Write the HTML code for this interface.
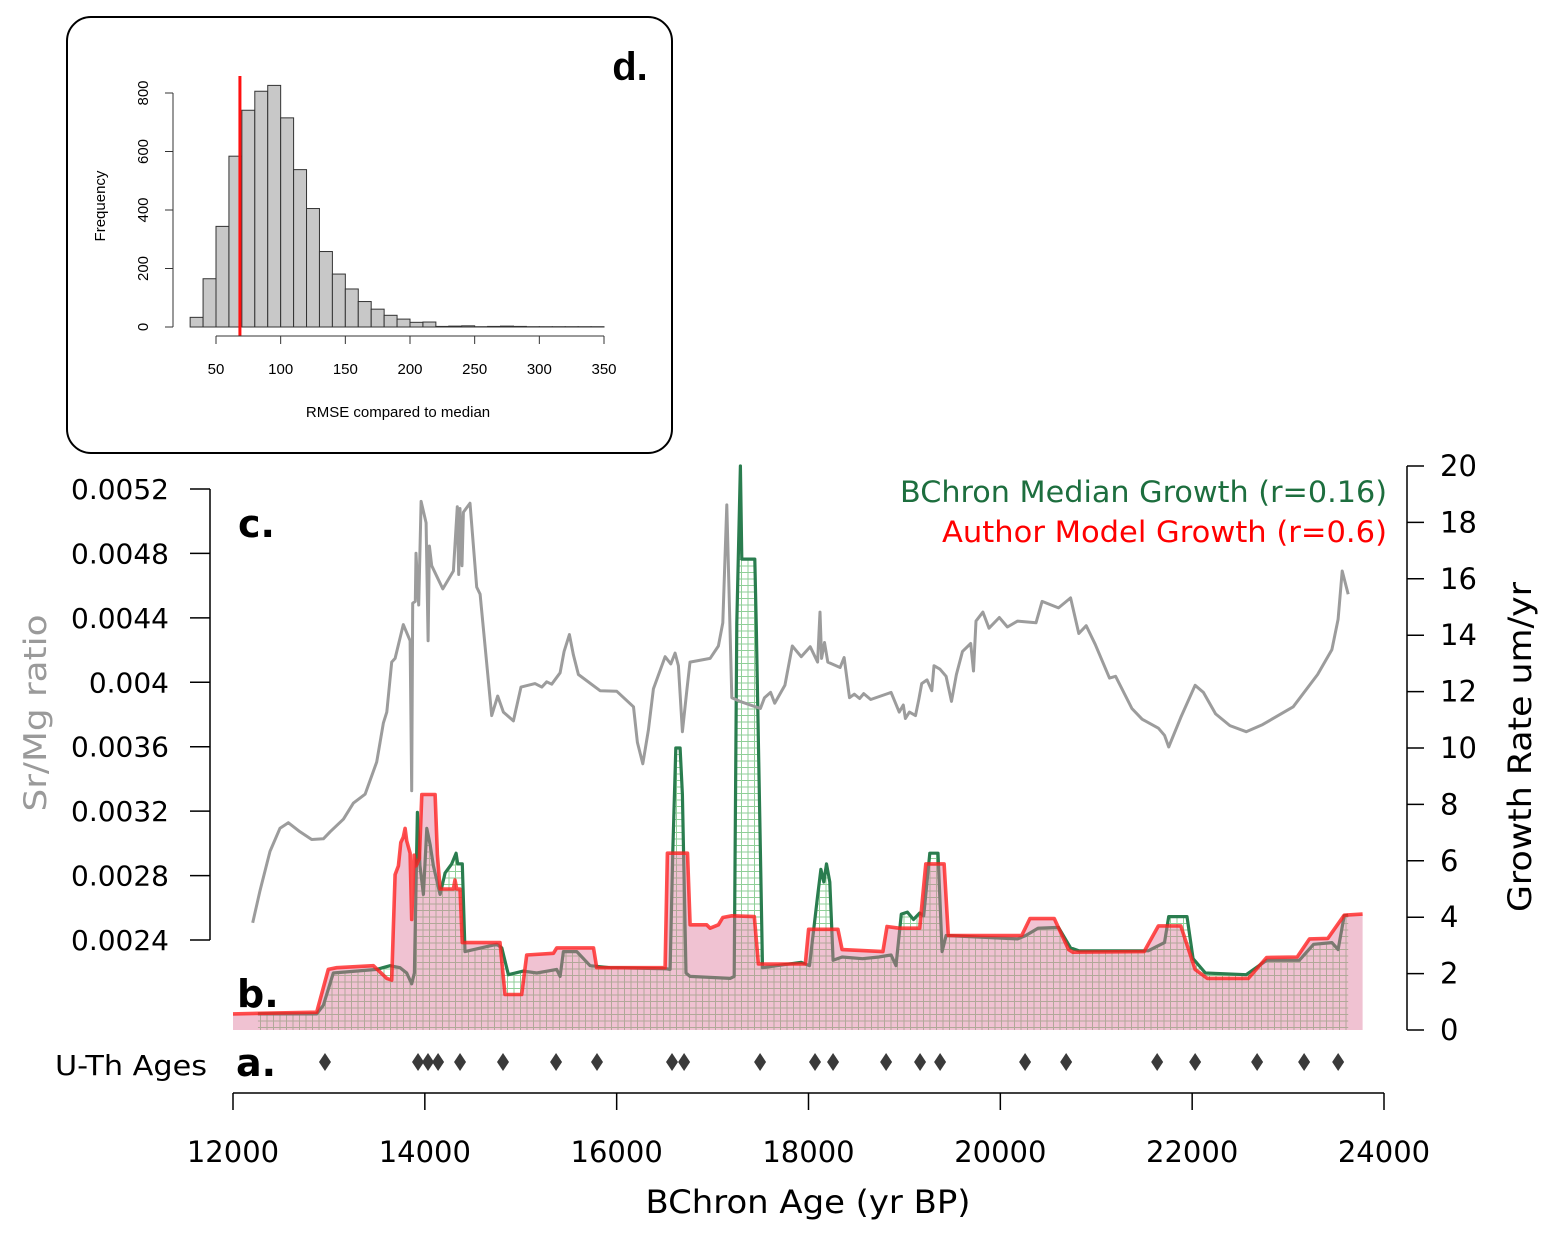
<!DOCTYPE html>
<html><head><meta charset="utf-8"><style>
html,body{margin:0;padding:0;background:#fff;}
svg{display:block;font-family:"Liberation Sans","DejaVu Sans",sans-serif;}
.dv{font-family:"DejaVu Sans","Liberation Sans",sans-serif;}
</style></head><body>
<svg id="fig" width="1554" height="1237" viewBox="0 0 1554 1237" xmlns="http://www.w3.org/2000/svg">
<defs>
<pattern id="ggrid" width="6.5" height="6.5" patternUnits="userSpaceOnUse">
<path d="M0 0.5H6.5M0.5 0V6.5" stroke="#8fcf98" stroke-width="1" fill="none"/>
</pattern>
</defs>
<g id="inset">
<rect x="67" y="17" width="605" height="436" rx="24" fill="#fff" stroke="#000" stroke-width="2"/>
<text x="630" y="80" font-size="40" font-weight="bold" text-anchor="middle">d.</text>
<g id="histBars"></g>
<g id="histAxes"></g>
<text x="398" y="417" font-size="15" text-anchor="middle">RMSE compared to median</text>
<text transform="translate(105,206) rotate(-90)" font-size="15" text-anchor="middle">Frequency</text>
</g>
<g id="main" class="dv">
<g id="gfill"></g>
<g id="gline"></g>
<g id="rfill"></g>
<g id="rline"></g>
<g id="grayline"></g>
<g id="axes"></g>
<g id="uth"></g>
<text x="238" y="537" font-size="38" font-weight="bold">c.</text>
<text x="237" y="1007" font-size="38" font-weight="bold">b.</text>
<text x="236" y="1076" font-size="38" font-weight="bold">a.</text>
<text x="55" y="1075" font-size="28" textLength="152" lengthAdjust="spacingAndGlyphs">U-Th Ages</text>
<text x="900" y="502" font-size="29" textLength="487" lengthAdjust="spacingAndGlyphs" fill="#1d6e3e">BChron Median Growth (r=0.16)</text>
<text x="942" y="542" font-size="29" textLength="445" lengthAdjust="spacingAndGlyphs" fill="#ff0000">Author Model Growth (r=0.6)</text>
<text transform="translate(46,713) rotate(-90)" font-size="31" fill="#9a9a9a" text-anchor="middle" textLength="197" lengthAdjust="spacingAndGlyphs">Sr/Mg ratio</text>
<text transform="translate(1531,747) rotate(-90)" font-size="32" text-anchor="middle" textLength="330" lengthAdjust="spacingAndGlyphs">Growth Rate um/yr</text>
<text x="808" y="1213" font-size="32" text-anchor="middle" textLength="325" lengthAdjust="spacingAndGlyphs">BChron Age (yr BP)</text>
</g>
</svg>
<script>
const NS='http://www.w3.org/2000/svg';
// ---- data ----
const grayYr=[12205,12282,12386,12490,12577,12699,12821,12942,13012,13151,13255,13377,13498,13568,13603,13655,13690,13776,13846,13863,13874,13901,13908,13936,13961,14013,14034,14048,14072,14187,14298,14339,14353,14367,14388,14402,14471,14541,14576,14697,14760,14819,14923,15003,15149,15219,15271,15323,15410,15452,15507,15549,15601,15827,16001,16175,16216,16272,16331,16383,16505,16564,16609,16644,16685,16731,16765,16974,17061,17106,17148,17200,17287,17499,17541,17605,17648,17754,17831,17924,18018,18095,18120,18137,18167,18201,18329,18371,18427,18478,18533,18576,18648,18754,18861,18946,18988,19010,19052,19116,19150,19180,19235,19286,19308,19371,19435,19491,19542,19606,19691,19720,19746,19818,19882,19989,20074,20180,20372,20435,20606,20733,20818,20895,20989,21138,21202,21372,21478,21648,21712,21755,21882,22031,22117,22244,22393,22563,22734,23053,23308,23457,23521,23564,23627];
const grayVal=[0.002507,0.002706,0.00295,0.003094,0.003128,0.003072,0.003024,0.003028,0.003072,0.00315,0.00325,0.003305,0.003505,0.003748,0.003815,0.004125,0.004148,0.004358,0.004258,0.003327,0.004491,0.004502,0.004801,0.00448,0.005123,0.00499,0.004258,0.004846,0.004724,0.00458,0.004691,0.00509,0.004669,0.005079,0.004724,0.005056,0.005112,0.004591,0.004547,0.003793,0.003915,0.003815,0.00376,0.00397,0.003992,0.00397,0.004003,0.003988,0.004059,0.004192,0.004296,0.00417,0.004048,0.003948,0.003944,0.003848,0.003627,0.003494,0.003704,0.003959,0.004159,0.004114,0.004181,0.004103,0.003693,0.003948,0.004125,0.004148,0.004225,0.004369,0.005101,0.003904,0.003881,0.003837,0.003904,0.003937,0.00387,0.003981,0.004225,0.004159,0.004221,0.004125,0.004436,0.004148,0.004247,0.004125,0.004092,0.004154,0.003904,0.003926,0.003899,0.00393,0.003893,0.003915,0.003937,0.003815,0.003859,0.003775,0.003815,0.003793,0.003893,0.003992,0.004015,0.003948,0.004103,0.004081,0.004037,0.003881,0.004048,0.004192,0.004241,0.00407,0.00438,0.004436,0.004336,0.004402,0.004343,0.00438,0.004369,0.004502,0.004462,0.004524,0.004303,0.004351,0.004236,0.004026,0.004037,0.003837,0.003771,0.003715,0.003671,0.003598,0.003782,0.003981,0.003937,0.003804,0.003731,0.003693,0.003737,0.003848,0.004048,0.004203,0.004391,0.004691,0.004547];
const redYr=[12000,12873,12994,13081,13464,13603,13655,13672,13690,13724,13749,13776,13794,13811,13846,13863,13888,13908,13943,13968,14107,14131,14159,14193,14298,14315,14332,14367,14391,14784,14836,15010,15062,15340,15375,15758,15792,16505,16529,16738,16766,16939,16974,17061,17106,17200,17435,17478,17967,18001,18307,18350,18776,18818,18946,19159,19223,19414,19457,20223,20308,20563,20712,20755,21499,21648,21882,22031,22159,22585,22776,23095,23223,23414,23585,23777];
const redG=[0.57,0.63,2.15,2.21,2.28,1.83,1.77,3.67,5.51,5.82,6.65,6.84,7.15,6.71,6.27,3.92,6.2,5.82,6.08,8.35,8.35,6.2,5.0,5.0,5.0,5.32,5.0,5.0,3.1,3.1,1.26,1.26,2.66,2.72,2.91,2.91,2.21,2.21,6.27,6.27,3.73,3.73,3.61,3.73,3.99,4.05,4.02,2.34,2.34,3.57,3.57,2.85,2.78,3.67,3.61,3.61,5.89,5.89,3.35,3.35,3.95,3.95,2.85,2.76,2.78,3.69,3.69,2.15,1.83,1.83,2.57,2.59,3.23,3.25,4.07,4.11];
const greenYr=[12260,12873,12942,13046,13498,13638,13742,13811,13863,13891,13922,13950,13985,14020,14055,14089,14159,14211,14280,14326,14343,14391,14419,14750,14802,14871,15027,15167,15375,15410,15445,15584,15723,15931,16522,16557,16585,16616,16661,16685,16723,16765,17183,17225,17252,17290,17305,17440,17456,17520,17924,18010,18095,18129,18159,18188,18222,18256,18350,18563,18733,18861,18912,18967,19031,19095,19159,19201,19265,19350,19393,19435,20180,20265,20393,20606,20733,20818,21542,21712,21755,21946,22010,22138,22563,22776,23117,23266,23457,23521,23585,23627];
const greenG=[0.57,0.57,0.88,2.02,2.15,2.28,2.21,2.02,1.64,2.02,7.72,5.82,4.81,7.15,6.58,5.82,4.81,5.57,5.89,6.27,5.89,5.89,2.78,3.04,2.91,1.96,2.09,2.02,2.15,1.9,2.78,2.78,2.28,2.21,2.17,2.15,6.33,10.0,10.0,8.35,2.02,1.9,1.83,1.9,14.43,20.0,16.7,16.7,14.3,2.21,2.4,2.28,4.75,5.7,5.25,5.89,5.25,2.47,2.59,2.53,2.59,2.66,2.28,4.11,4.18,3.92,4.15,4.05,6.27,6.27,2.78,3.35,3.23,3.35,3.61,3.64,2.91,2.81,2.81,3.1,4.02,4.02,2.53,2.02,1.96,2.47,2.47,3.04,3.1,2.85,4.05,4.07];
const uthAges=[12959,13929,14033,14138,14367,14815,15368,15795,16577,16703,17495,18068,18256,18809,19163,19372,20258,20686,21635,22031,22677,23167,23522];
const xTicks=[12000,14000,16000,18000,20000,22000,24000];
const leftTicks=[0.0024,0.0028,0.0032,0.0036,0.004,0.0044,0.0048,0.0052];
const leftTickLabels=['0.0024','0.0028','0.0032','0.0036','0.004','0.0044','0.0048','0.0052'];
const rightTicks=[0,2,4,6,8,10,12,14,16,18,20];
const histBinStart=[30,40,50,60,70,80,90,100,110,120,130,140,150,160,170,180,190,200,210,220,230,240,250,260,270,280,290,300,310,320,330,340];
const histCounts=[33,165,344,584,741,806,826,715,538,405,258,181,130,87,61,40,27,16,17,2,3,4,1,2,3,2,1,1,1,1,1,1];
const histXTicks=[50,100,150,200,250,300,350];
const histYTicks=[0,200,400,600,800];
const observedRmse=[68.5];
// ---- scales ----
const xS=y=>233+(y-12000)*1151/12000;
const yL=v=>940-(v-0.0024)/0.0004*64.43;
const yR=g=>1030-g*28.2;
const hx=v=>216+(v-50)*388/300;
const hy=c=>327-c*(234/800);
function el(tag,attrs,parent){const e=document.createElementNS(NS,tag);for(const k in attrs)e.setAttribute(k,attrs[k]);parent.appendChild(e);return e;}
function linePath(xs,ys,fx,fy){return xs.map((v,i)=>(i?'L':'M')+fx(v).toFixed(1)+' '+fy(ys[i]).toFixed(1)).join(' ');}
const gp=linePath(greenYr,greenG,xS,yR);
let e=el('path',{d:gp+` L${xS(greenYr[greenYr.length-1])} ${yR(0)} L${xS(greenYr[0])} ${yR(0)} Z`,fill:'url(#ggrid)'},document.getElementById('gfill'));


e=el('path',{d:gp,fill:'none',stroke:'#2a7d4f','stroke-width':3.2,'stroke-linejoin':'round'},document.getElementById('gline'));


const rp=linePath(redYr,redG,xS,yR);
e=el('path',{d:rp+` L${xS(redYr[redYr.length-1])} ${yR(0)} L${xS(redYr[0])} ${yR(0)} Z`,fill:'rgba(222,120,155,0.45)'},document.getElementById('rfill'));


e=el('path',{d:rp,fill:'none',stroke:'rgba(255,30,30,0.78)','stroke-width':3.6,'stroke-linejoin':'round'},document.getElementById('rline'));


e=el('path',{d:linePath(grayYr,grayVal,xS,yL),fill:'none',stroke:'#9c9c9c','stroke-width':3,'stroke-linejoin':'round'},document.getElementById('grayline'));


const ax=document.getElementById('axes');
e=el('line',{x1:210,y1:yL(0.0052),x2:210,y2:yL(0.0024),stroke:'#000','stroke-width':1.5},ax);


leftTicks.forEach((v,i)=>{const y=yL(v);
 let t=el('line',{x1:190,y1:y,x2:210,y2:y,stroke:'#000','stroke-width':1.5},ax);
 
 
 t=el('text',{x:169,y:y+10,'font-size':28,'text-anchor':'end'},ax);t.textContent=leftTickLabels[i];
 
 });
e=el('line',{x1:1407,y1:yR(20),x2:1407,y2:yR(0),stroke:'#000','stroke-width':1.5},ax);


rightTicks.forEach(v=>{const y=yR(v);
 let t=el('line',{x1:1407,y1:y,x2:1424,y2:y,stroke:'#000','stroke-width':1.5},ax);
 
 
 t=el('text',{x:1440,y:y+10,'font-size':29},ax);t.textContent=String(v);
 
 });
e=el('line',{x1:xS(12000),y1:1093,x2:xS(24000),y2:1093,stroke:'#000','stroke-width':1.5},ax);


xTicks.forEach(v=>{const x=xS(v);
 let t=el('line',{x1:x,y1:1093,x2:x,y2:1110,stroke:'#000','stroke-width':1.5},ax);
 
 
 t=el('text',{x:x,y:1162,'font-size':29,'text-anchor':'middle'},ax);t.textContent=String(v);
 
 });
const ug=document.getElementById('uth');
uthAges.forEach(a=>{const x=xS(a),y=1062;
 const d=el('path',{d:`M${x} ${y-9} L${x+6} ${y} L${x} ${y+9} L${x-6} ${y} Z`,fill:'#3a3a3a'},ug);
 
 });
const hb=document.getElementById('histBars');
histBinStart.forEach((b,i)=>{const x0=hx(b),x1=hx(b+10),y=hy(histCounts[i]);
 const r=el('rect',{x:x0,y:y,width:x1-x0,height:hy(0)-y,fill:'#c8c8c8',stroke:'#333','stroke-width':1},hb);
 
 });
const ha=document.getElementById('histAxes');
e=el('line',{x1:hx(observedRmse[0]),y1:76,x2:hx(observedRmse[0]),y2:336,stroke:'#ff1010','stroke-width':3},ha);


e=el('line',{x1:173,y1:hy(800),x2:173,y2:hy(0),stroke:'#333','stroke-width':1},ha);


histYTicks.forEach(v=>{const y=hy(v);
 let t=el('line',{x1:165,y1:y,x2:173,y2:y,stroke:'#333','stroke-width':1},ha);
 
 
 t=el('text',{transform:`translate(148,${y}) rotate(-90)`,'font-size':15,'text-anchor':'middle'},ha);t.textContent=String(v);
 
 });
e=el('line',{x1:hx(50),y1:336,x2:hx(350),y2:336,stroke:'#333','stroke-width':1},ha);


histXTicks.forEach(v=>{const x=hx(v);
 let t=el('line',{x1:x,y1:336,x2:x,y2:344,stroke:'#333','stroke-width':1},ha);
 
 
 t=el('text',{x:x,y:374,'font-size':15,'text-anchor':'middle'},ha);t.textContent=String(v);
 
 });
</script>
</body></html>
